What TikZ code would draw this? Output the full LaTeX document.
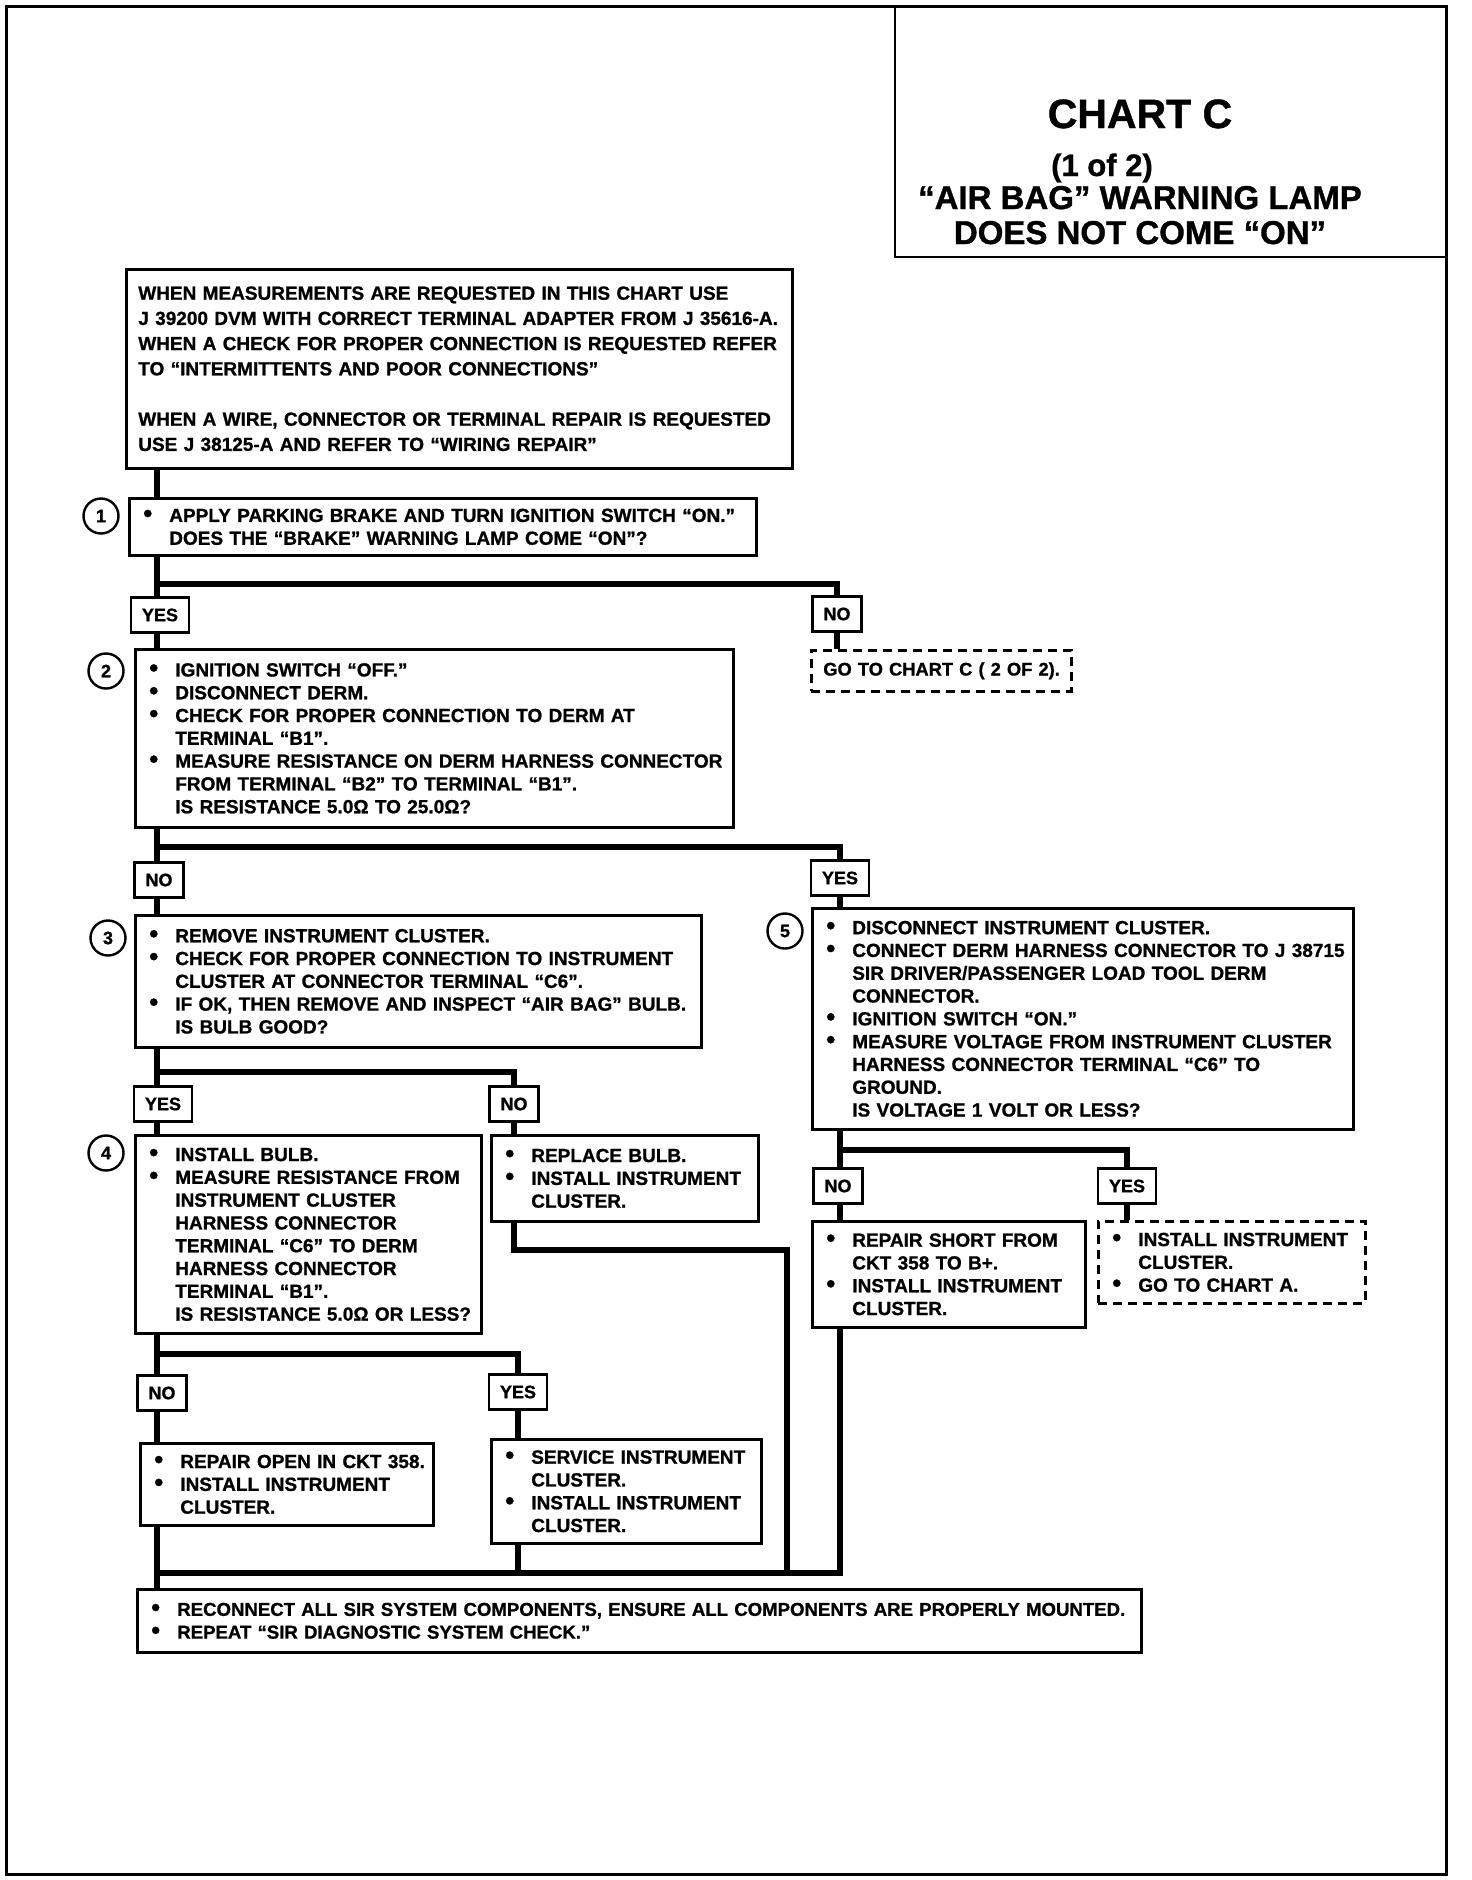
\documentclass[tikz,border=0pt]{standalone}
\usepackage{fontspec}
\usepackage{graphicx}
\setmainfont{Liberation Sans}[BoldFeatures={FakeBold=1}]
\usetikzlibrary{backgrounds}

\newcommand{\bodyfont}{\fontsize{19}{22.8}\selectfont\bfseries}
\newcommand{\bul}[1]{\makebox[26pt][l]{\scalebox{1.35}{\textbullet}}\mbox{#1}}
\newcommand{\ind}[1]{\hspace*{26pt}\mbox{#1}}

\tikzstyle{stepbox} = [rectangle, draw=black, line width=2.6pt, fill=white, anchor=north west, align=left, inner xsep=14pt, inner ysep=0pt, font=\bodyfont]
\tikzstyle{endbox} = [stepbox, dash pattern=on 9pt off 6pt]
\tikzstyle{answer} = [rectangle, draw=black, line width=2.6pt, fill=white, minimum height=35pt, inner xsep=11pt, inner ysep=0pt, font=\fontsize{18}{18}\selectfont\bfseries]
\tikzstyle{stepnum} = [circle, draw=black, line width=2.4pt, fill=white, minimum size=35pt, inner sep=0pt, font=\fontsize{18}{18}\selectfont\bfseries]
\tikzstyle{link} = [line width=5.5pt]

\begin{document}
\begin{tikzpicture}[x=1pt, y=-1pt]

	\def \trunkx {157}
	\def \rightx {840}

	\useasboundingbox (0,0) rectangle (1472,1880);
	\draw [line width=3pt] (6,6) rectangle (1446,1874);

	%title
	\draw [line width=2.6pt] (895,6) |- (1446,257);
	\node (chart) [anchor=base, font=\fontsize{41}{41}\selectfont\bfseries] at (1140,128) {CHART C};
	\node (part) [anchor=base, font=\fontsize{31}{31}\selectfont\bfseries] at (1102,176) {(1 of 2)};
	\node (lamp) [anchor=base, font=\fontsize{33}{33}\selectfont\bfseries] at (1140,209) {“AIR BAG” WARNING LAMP};
	\node (noton) [anchor=base, font=\fontsize{33}{33}\selectfont\bfseries] at (1140,244) {DOES NOT COME “ON”};

	%boxes
	\node (intro) [stepbox, inner xsep=12pt, text width=642pt, minimum height=199pt, font=\fontsize{19}{25.2}\selectfont\bfseries] at (125,268) {\mbox{WHEN MEASUREMENTS ARE REQUESTED IN THIS CHART USE}\\ \mbox{J 39200 DVM WITH CORRECT TERMINAL ADAPTER FROM J 35616-A.}\\ \mbox{WHEN A CHECK FOR PROPER CONNECTION IS REQUESTED REFER}\\ \mbox{TO “INTERMITTENTS AND POOR CONNECTIONS”}\\[25.2pt] \mbox{WHEN A WIRE, CONNECTOR OR TERMINAL REPAIR IS REQUESTED}\\ \mbox{USE J 38125-A AND REFER TO “WIRING REPAIR”}};
	\node (q1) [stepbox, text width=599pt, minimum height=57pt] at (128,497) {\bul{APPLY PARKING BRAKE AND TURN IGNITION SWITCH “ON.”}\\ \ind{DOES THE “BRAKE” WARNING LAMP COME “ON”?}};
	\node (goto) [endbox, inner xsep=12pt, text width=236pt, minimum height=41pt, font=\fontsize{18.3}{22.8}\selectfont\bfseries] at (810,649) {\mbox{GO TO CHART C ( 2 OF 2).}};
	\node (q2) [stepbox, text width=570pt, minimum height=178pt] at (134,648) {\bul{IGNITION SWITCH “OFF.”}\\ \bul{DISCONNECT DERM.}\\ \bul{CHECK FOR PROPER CONNECTION TO DERM AT}\\ \ind{TERMINAL “B1”.}\\ \bul{MEASURE RESISTANCE ON DERM HARNESS CONNECTOR}\\ \ind{FROM TERMINAL “B2” TO TERMINAL “B1”.}\\ \ind{IS RESISTANCE 5.0Ω TO 25.0Ω?}};
	\node (q3) [stepbox, text width=538pt, minimum height=132pt] at (134,914) {\bul{REMOVE INSTRUMENT CLUSTER.}\\ \bul{CHECK FOR PROPER CONNECTION TO INSTRUMENT}\\ \ind{CLUSTER AT CONNECTOR TERMINAL “C6”.}\\ \bul{IF OK, THEN REMOVE AND INSPECT “AIR BAG” BULB.}\\ \ind{IS BULB GOOD?}};
	\node (q5) [stepbox, text width=513pt, minimum height=221pt] at (811,907) {\bul{DISCONNECT INSTRUMENT CLUSTER.}\\ \bul{CONNECT DERM HARNESS CONNECTOR TO J 38715}\\ \ind{SIR DRIVER/PASSENGER LOAD TOOL DERM}\\ \ind{CONNECTOR.}\\ \bul{IGNITION SWITCH “ON.”}\\ \bul{MEASURE VOLTAGE FROM INSTRUMENT CLUSTER}\\ \ind{HARNESS CONNECTOR TERMINAL “C6” TO}\\ \ind{GROUND.}\\ \ind{IS VOLTAGE 1 VOLT OR LESS?}};
	\node (q4) [stepbox, text width=318pt, minimum height=198pt] at (134,1134) {\bul{INSTALL BULB.}\\ \bul{MEASURE RESISTANCE FROM}\\ \ind{INSTRUMENT CLUSTER}\\ \ind{HARNESS CONNECTOR}\\ \ind{TERMINAL “C6” TO DERM}\\ \ind{HARNESS CONNECTOR}\\ \ind{TERMINAL “B1”.}\\ \ind{IS RESISTANCE 5.0Ω OR LESS?}};
	\node (replace) [stepbox, text width=239pt, minimum height=86pt] at (490,1134) {\bul{REPLACE BULB.}\\ \bul{INSTALL INSTRUMENT}\\ \ind{CLUSTER.}};
	\node (open) [stepbox, text width=265pt, minimum height=82pt] at (139,1442) {\bul{REPAIR OPEN IN CKT 358.}\\ \bul{INSTALL INSTRUMENT}\\ \ind{CLUSTER.}};
	\node (service) [stepbox, text width=242pt, minimum height=104pt] at (490,1438) {\bul{SERVICE INSTRUMENT}\\ \ind{CLUSTER.}\\ \bul{INSTALL INSTRUMENT}\\ \ind{CLUSTER.}};
	\node (short) [stepbox, text width=245pt, minimum height=106pt] at (811,1220) {\bul{REPAIR SHORT FROM}\\ \ind{CKT 358 TO B+.}\\ \bul{INSTALL INSTRUMENT}\\ \ind{CLUSTER.}};
	\node (gotoa) [endbox, text width=239pt, minimum height=82pt] at (1097,1220) {\bul{INSTALL INSTRUMENT}\\ \ind{CLUSTER.}\\ \bul{GO TO CHART A.}};
	\node (final) [stepbox, text width=976pt, minimum height=63pt, font=\fontsize{18.6}{22.8}\selectfont\bfseries] at (136,1588) {\bul{RECONNECT ALL SIR SYSTEM COMPONENTS, ENSURE ALL COMPONENTS ARE PROPERLY MOUNTED.}\\ \bul{REPEAT “SIR DIAGNOSTIC SYSTEM CHECK.”}};

	%step numbers
	\node (n1) [stepnum] at (101,516) {1};
	\node (n2) [stepnum] at (106,671) {2};
	\node (n3) [stepnum] at (108,938) {3};
	\node (n4) [stepnum] at (106,1153) {4};
	\node (n5) [stepnum] at (785,931) {5};

	%answers
	\node (yes1) [answer] at (160,615) {YES};
	\node (no1) [answer] at (837,614) {NO};
	\node (no2) [answer] at (159,880) {NO};
	\node (yes2) [answer] at (\rightx,878) {YES};
	\node (yes3) [answer] at (163,1104) {YES};
	\node (no3) [answer] at (514,1104) {NO};
	\node (no4) [answer] at (162,1393) {NO};
	\node (yes4) [answer] at (518,1392) {YES};
	\node (no5) [answer] at (838,1186) {NO};
	\node (yes5) [answer] at (1127,1186) {YES};

	\coordinate (j1) at (\trunkx,584);
	\coordinate (j2) at (\trunkx,847);
	\coordinate (j3) at (\trunkx,1072);
	\coordinate (j4) at (\trunkx,1354);
	\coordinate (jm) at (\trunkx,1573);
	\coordinate (j5) at (\rightx,1150);
	\coordinate (jr) at (787,1250);

	%links
	\begin{scope}[on background layer]
	\draw [link] (intro.south -| j1) -- (q1.north -| j1);
	\draw [link] (q1.south -| j1) -- (q2.north -| j1);
	\draw [link] (j1) -| (no1.center) -- (no1 |- goto.north);
	\draw [link] (q2.south -| j1) -- (q3.north -| j1);
	\draw [link] (j2) -| (yes2.center) -- (yes2 |- q5.north);
	\draw [link] (q3.south -| j1) -- (q4.north -| j1);
	\draw [link] (j3) -| (no3.center) -- (no3 |- replace.north);
	\draw [link] (q4.south -| j1) -- (open.north -| j1);
	\draw [link] (j4) -| (yes4.center) -- (yes4 |- service.north);
	\draw [link] (open.south -| j1) -- (final.north -| j1);
	\draw [link] (service.south -| yes4) -- (yes4 |- jm);
	\draw [link] (replace.south -| no3) |- (jr) -- (jr |- jm);
	\draw [link] (q5.south -| yes2) -- (short.north -| yes2);
	\draw [link] (short.south -| yes2) |- (jm);
	\draw [link] (j5) -| (yes5.center) -- (yes5 |- gotoa.north);
	\end{scope}

\end{tikzpicture}
\end{document}
